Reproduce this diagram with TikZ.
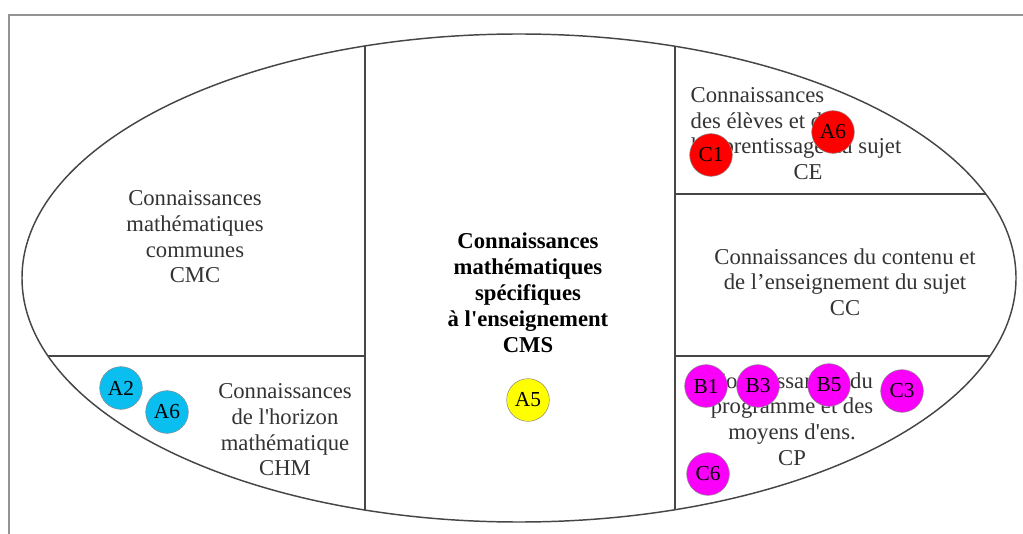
\documentclass[tikz,border=0pt]{standalone}
\usepackage{fontspec}
\setmainfont{Liberation Serif}
\usetikzlibrary{positioning}
\definecolor{rimgray}{RGB}{70,70,70}
\definecolor{ballred}{RGB}{255,0,0}
\definecolor{ballblue}{RGB}{10,190,240}
\definecolor{ballpink}{RGB}{250,0,250}
\definecolor{ballyellow}{RGB}{255,255,0}

\begin{document}
\begin{tikzpicture}[
    x=0.75pt, y=-0.75pt,
    font=\fontsize{17}{19.2}\selectfont,
    zone/.style={align=center, text=black!80, inner sep=0pt},
    rim/.style={draw=rimgray, line width=1.1pt},
    ball/.style={circle, fill=#1, draw=black!45, line width=0.4pt,
                 minimum size=32pt, inner sep=0pt,
                 font=\fontsize{16}{16}\selectfont}
  ]
  \useasboundingbox (0,0) rectangle (1023,534);

  % frame
  \draw[draw=gray!85, line width=1.1pt] (9,534) -- (9,15) -- (1023,15);

  % ellipse and its sectors
  \draw[rim] (519,278) ellipse [x radius=497, y radius=244];
  \begin{scope}
    \clip (519,278) ellipse [x radius=497, y radius=244];
    \draw[rim] (365,0) -- (365,534);
    \draw[rim] (675,0) -- (675,534);
    \draw[rim] (0,356) -- (365,356);
    \draw[rim] (675,194) -- (1023,194);
    \draw[rim] (675,356) -- (1023,356);
  \end{scope}

  % zone labels
  \node[zone] (cmc) at (195,237) {Connaissances\\math\'ematiques\\communes\\CMC};
  \node[zone] (chm) at (285,430) {Connaissances\\de l\textquotesingle horizon\\math\'ematique\\CHM};
  \node[zone, text=black, font=\fontsize{17}{19.5}\selectfont\bfseries] (cms) at (528,293)
    {Connaissances\\math\'ematiques\\sp\'ecifiques\\\`a l\textquotesingle enseignement\\CMS};
  \node[text=black!80, inner sep=0pt] (ce) at (796,136)
    {\begin{tabular}{@{}l@{}}Connaissances\\des \'el\`eves et de\\l\textquotesingle apprentissage du sujet\\
     \multicolumn{1}{@{}c@{}}{\hspace{18pt}CE}\end{tabular}};
  \node[zone] (cc) at (845,282) {Connaissances du contenu et\\de l’enseignement du sujet\\CC};
  \node[zone] (cp) at (792,419) {Connaissances du\\programme et des\\moyens d\textquotesingle ens.\\CP};

  % items
  \foreach \n/\x/\y/\c/\t in {c1/711/155/ballred/C1, a6r/833/132/ballred/A6,
      b1/706/386/ballpink/B1, b3/758/386/ballpink/B3, b5/829/385/ballpink/B5,
      c3/902/391/ballpink/C3, c6/708/474/ballpink/C6,
      a2/121/388/ballblue/A2, a6b/167/412/ballblue/A6,
      a5/528/400/ballyellow/A5}
    \node[ball=\c] (\n) at (\x,\y) {\t};

\end{tikzpicture}
\end{document}
